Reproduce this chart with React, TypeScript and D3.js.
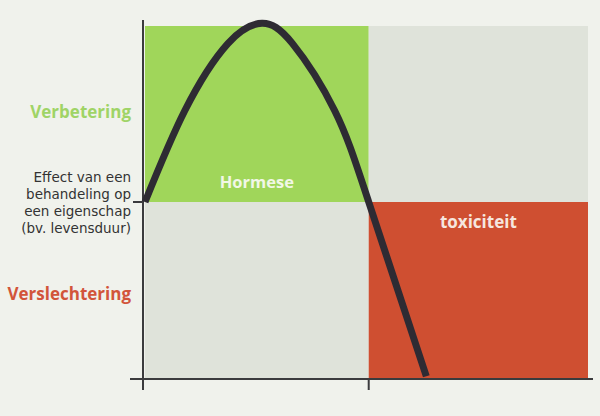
import React from "react";
import * as d3 from "d3";

// Dose (arbitrary units, 0-100) and effect (-100..100, 0 = control level)
const dose = [0, 9, 18.7, 26.4, 33.3, 42.8, 50.5, 63.5];
const effect = [0, 52, 90, 101.5, 90, 52, 0, -99];

// Zones
const zoneX0 = [0, 50.5, 0, 50.5];
const zoneX1 = [50.5, 100, 50.5, 100];
const zoneY0 = [0, 0, -100, -100];
const zoneY1 = [100, 100, 0, 0];
const zoneKind = ["hormese", "neutral", "neutral", "toxic"];

const zoneLabels = ["Hormese", "toxiciteit"];
const yLabelTop = "Verbetering";
const yLabelBottom = "Verslechtering";
const yLabelMid = ["Effect van een", "behandeling op", "een eigenschap", "(bv. levensduur)"];
const xTicks = [0, 50.5];

const W = 600;
const H = 416;
const FONT = "'Open Sans', 'DejaVu Sans', sans-serif";
const FONT_MID = "'DejaVu Sans', sans-serif";

export default function App() {
  const x = d3.scaleLinear().domain([0, 100]).range([145, 588]);
  const y = d3.scaleLinear().domain([-100, 100]).range([378, 26]);

  const zoneFill: Record<string, string> = {
    hormese: "#a0d65a",
    neutral: "#dfe3da",
    toxic: "#cf4f31",
  };

  const pts = dose.map((d, i) => [d, effect[i]] as [number, number]);
  const line = d3
    .line<[number, number]>()
    .x((d) => x(d[0]))
    .y((d) => y(d[1]))
    .curve(d3.curveNatural);

  const axisX = x(0) - 2;
  const axisY = y(-100) + 1;

  return (
    <svg
      width={W}
      height={H}
      style={{ position: "absolute", left: 0, top: 0, background: "#f0f2ec" }}
    >
      <rect x={0} y={0} width={W} height={H} fill="#f0f2ec" />
      {zoneKind.map((k, i) => (
        <rect
          key={i}
          x={x(zoneX0[i])}
          y={y(zoneY1[i])}
          width={x(zoneX1[i]) - x(zoneX0[i])}
          height={y(zoneY0[i]) - y(zoneY1[i])}
          fill={zoneFill[k]}
        />
      ))}
      <text
        x={(x(0) + x(50.5)) / 2}
        y={188}
        textAnchor="middle"
        fontFamily={FONT}
        fontWeight="bold"
        fontSize={16.5}
        fill="#f1f7e6"
      >
        {zoneLabels[0]}
      </text>
      <text
        x={(x(50.5) + x(100)) / 2}
        y={228}
        textAnchor="middle"
        fontFamily={FONT}
        fontWeight="bold"
        fontSize={17}
        fill="#f6e6df"
      >
        {zoneLabels[1]}
      </text>

      {/* axes */}
      <line x1={axisX} x2={axisX} y1={20} y2={390} stroke="#3b3b3d" strokeWidth={2} />
      <line x1={130} x2={593} y1={axisY} y2={axisY} stroke="#3b3b3d" strokeWidth={2} />
      {xTicks.map((t, i) => (
        <line
          key={i}
          x1={i === 0 ? axisX : x(t)}
          x2={i === 0 ? axisX : x(t)}
          y1={axisY}
          y2={390}
          stroke="#3b3b3d"
          strokeWidth={2}
        />
      ))}
      <line x1={133} x2={axisX} y1={y(0)} y2={y(0)} stroke="#3b3b3d" strokeWidth={2} />

      {/* curve */}
      <path
        d={line(pts) || ""}
        fill="none"
        stroke="#2e2b33"
        strokeWidth={7}
        strokeLinecap="butt"
        strokeLinejoin="round"
      />

      {/* y labels */}
      <text
        x={131}
        y={118}
        textAnchor="end"
        fontFamily={FONT}
        fontWeight="bold"
        fontSize={17}
        fill="#9fd466"
      >
        {yLabelTop}
      </text>
      {yLabelMid.map((s, i) => (
        <text
          key={i}
          x={131}
          y={182 + i * 17}
          textAnchor="end"
          fontFamily={FONT_MID}
          fontSize={13.5}
          fill="#333333"
        >
          {s}
        </text>
      ))}
      <text
        x={131}
        y={300}
        textAnchor="end"
        fontFamily={FONT}
        fontWeight="bold"
        fontSize={17}
        fill="#d2553a"
      >
        {yLabelBottom}
      </text>
    </svg>
  );
}
